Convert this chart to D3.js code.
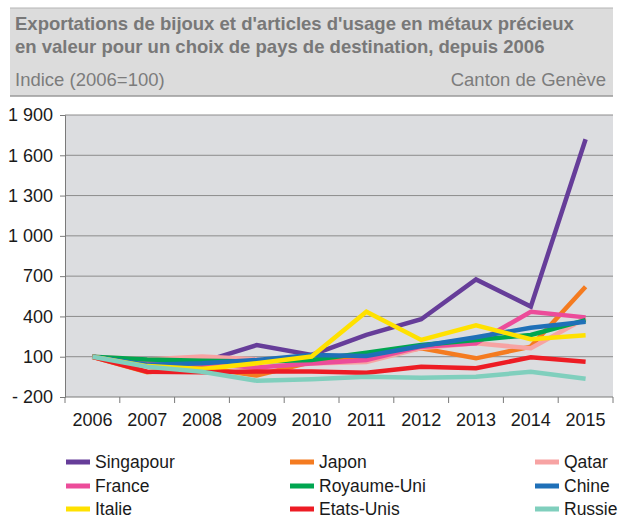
<!DOCTYPE html>
<html>
<head>
<meta charset="utf-8">
<script src="https://cdn.jsdelivr.net/npm/d3@7"></script>
<style>
  body { margin: 0; background: #fff; }
  text { font-family: "Liberation Sans", Arial, sans-serif; }
</style>
</head>
<body>
<div id="chart-area"></div>
<script>
// données (indice 2006=100)
var years = [2006, 2007, 2008, 2009, 2010, 2011, 2012, 2013, 2014, 2015];
var yTicks = [-200, 100, 400, 700, 1000, 1300, 1600, 1900];

var countries = ["Singapour", "Japon", "Qatar", "France", "Royaume-Uni", "Chine", "Italie", "Etats-Unis", "Russie"];
var colors = ["#663d99", "#f47b20", "#f7a3a3", "#ec4c9a", "#00a650", "#1f70b8", "#ffe100", "#ed1c24", "#80cfbd"];

var singapour = [100, 55, 60, 187, 113, 262, 379, 676, 473, 1719];
var japon = [100, -15, 20, -40, 60, 100, 163, 88, 175, 621];
var qatar = [100, 80, 101, 80, 50, 60, 165, 200, 163, 386];
var france = [100, 50, 45, 20, 50, 75, 175, 200, 435, 393];
var royaumeUni = [100, 80, 70, 65, 75, 130, 187, 225, 262, 373];
var chine = [100, 40, 51, 75, 113, 106, 180, 245, 316, 360];
var italie = [100, 30, 8, 51, 101, 435, 225, 333, 230, 259];
var etatsUnis = [100, -12, -15, -10, -10, -19, 26, 14, 96, 63];
var russie = [100, 26, -12, -79, -68, -49, -56, -49, -12, -64];

var series = [singapour, japon, qatar, france, royaumeUni, chine, italie, etatsUnis, russie];

var width = 619, height = 519;
var plot = { left: 65, right: 613, top: 115, bottom: 397 };

var svg = d3.select("#chart-area").append("svg")
    .attr("width", width)
    .attr("height", height);

// en-tête
svg.append("rect")
    .attr("x", 10).attr("y", 8)
    .attr("width", 603).attr("height", 88)
    .attr("fill", "#dcdcdc");
svg.append("line")
    .attr("x1", 10).attr("x2", 613).attr("y1", 8).attr("y2", 8)
    .attr("stroke", "#b4b4b4").attr("stroke-width", 1);
svg.append("line")
    .attr("x1", 10).attr("x2", 613).attr("y1", 96).attr("y2", 96)
    .attr("stroke", "#9a9a9a").attr("stroke-width", 1.5);

svg.append("text")
    .attr("x", 15).attr("y", 30)
    .attr("fill", "#787878")
    .attr("font-size", 18.5).attr("font-weight", "bold")
    .text("Exportations de bijoux et d'articles d'usage en métaux précieux");
svg.append("text")
    .attr("x", 15).attr("y", 53)
    .attr("fill", "#787878")
    .attr("font-size", 18.5).attr("font-weight", "bold")
    .text("en valeur pour un choix de pays de destination, depuis 2006");
svg.append("text")
    .attr("x", 15).attr("y", 86)
    .attr("fill", "#7c7c7c")
    .attr("font-size", 18.5)
    .text("Indice (2006=100)");
svg.append("text")
    .attr("x", 606).attr("y", 86)
    .attr("fill", "#7c7c7c")
    .attr("font-size", 18.5)
    .attr("text-anchor", "end")
    .text("Canton de Genève");

// échelles
var x = d3.scaleBand()
    .domain(years)
    .range([plot.left, plot.right])
    .padding(0);

var y = d3.scaleLinear()
    .domain([-200, 1900])
    .range([plot.bottom, plot.top]);

function fmt(v) {
    var s = d3.format(",")(Math.abs(v)).replace(/,/g, " ");
    return v < 0 ? "- " + s : s;
}

// fond de la zone de tracé
svg.append("rect")
    .attr("x", plot.left).attr("y", plot.top)
    .attr("width", plot.right - plot.left)
    .attr("height", plot.bottom - plot.top)
    .attr("fill", "#dcdde0");

// quadrillage
svg.append("g").selectAll("line")
    .data(yTicks.filter(function(d){ return d > -200; }))
    .enter().append("line")
    .attr("x1", plot.left).attr("x2", plot.right)
    .attr("y1", function(d){ return y(d); })
    .attr("y2", function(d){ return y(d); })
    .attr("stroke", "#8c8c8c").attr("stroke-width", 1);

// axe Y
var yAxis = svg.append("g")
    .attr("transform", "translate(" + plot.left + ",0)")
    .call(d3.axisLeft(y).tickValues(yTicks).tickFormat(fmt).tickSize(5).tickPadding(7));
yAxis.select(".domain").attr("stroke", "#7a7a7a");
yAxis.selectAll(".tick line").attr("stroke", "#7a7a7a");
yAxis.selectAll("text").attr("font-size", 18).attr("fill", "#1a1a1a");

// axe X
svg.append("line")
    .attr("x1", plot.left).attr("x2", plot.right)
    .attr("y1", plot.bottom).attr("y2", plot.bottom)
    .attr("stroke", "#7a7a7a");
var bounds = years.map(function(d){ return x(d); }).concat([x(years[years.length - 1]) + x.bandwidth()]);
svg.append("g").selectAll("line")
    .data(bounds)
    .enter().append("line")
    .attr("x1", function(d){ return d; }).attr("x2", function(d){ return d; })
    .attr("y1", plot.bottom).attr("y2", plot.bottom + 6)
    .attr("stroke", "#7a7a7a");
svg.append("g").selectAll("text")
    .data(years)
    .enter().append("text")
    .attr("x", function(d){ return x(d) + x.bandwidth() / 2; })
    .attr("y", 426)
    .attr("text-anchor", "middle")
    .attr("font-size", 18)
    .attr("fill", "#1a1a1a")
    .text(function(d){ return d; });

// courbes
var line = d3.line()
    .x(function(d, i){ return x(years[i]) + x.bandwidth() / 2; })
    .y(function(d){ return y(d); });

svg.append("g").selectAll("path")
    .data(series)
    .enter().append("path")
    .attr("d", line)
    .attr("fill", "none")
    .attr("stroke", function(d, i){ return colors[i]; })
    .attr("stroke-width", 4.5)
    .attr("stroke-linejoin", "miter");

// légende
var legendX = [66, 290, 535];
var legendY = [462, 486, 509];
var legend = svg.append("g").selectAll("g")
    .data(countries)
    .enter().append("g")
    .attr("transform", function(d, i){
        return "translate(" + legendX[i % 3] + "," + legendY[Math.floor(i / 3)] + ")";
    });
legend.append("rect")
    .attr("x", 0).attr("y", -2.5)
    .attr("width", 24).attr("height", 5)
    .attr("fill", function(d, i){ return colors[i]; });
legend.append("text")
    .attr("x", 29).attr("y", 6)
    .attr("font-size", 17.5)
    .attr("fill", "#1a1a1a")
    .text(function(d){ return d; });
</script>
</body>
</html>
